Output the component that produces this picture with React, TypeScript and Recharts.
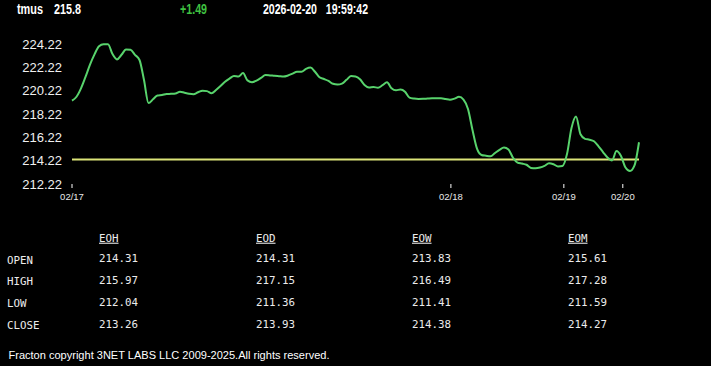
import React from "react";
import { LineChart, Line, XAxis, YAxis, ReferenceLine } from "recharts";

const symbol = "tmus";
const lastPrice = "215.8";
const change = "+1.49";
const dateText = "2026-02-20";
const timeText = "19:59:42";

const prices = [
  219.36, 219.7, 220.42, 221.4, 222.45, 223.33, 224.03, 224.2, 224.2, 223.36,
  222.9, 223.3, 223.74, 223.72, 223.29, 222.85, 221.13, 219.16, 219.48, 219.81,
  219.85, 219.93, 219.95, 219.98, 220.13, 220.04, 219.96, 219.92, 220.08, 220.22,
  220.18, 220.0, 220.28, 220.62, 220.99, 221.26, 221.48, 221.43, 221.73, 221.1,
  220.95, 221.08, 221.31, 221.56, 221.53, 221.49, 221.46, 221.43, 221.52, 221.68,
  221.85, 221.85, 222.09, 222.2, 221.84, 221.37, 221.22, 221.05, 220.81, 220.75,
  220.83, 221.15, 221.47, 221.43, 221.19, 220.71, 220.49, 220.53, 220.47, 220.69,
  220.94, 220.43, 220.25, 220.32, 220.13, 219.62, 219.54, 219.51, 219.52, 219.54,
  219.56, 219.57, 219.57, 219.51, 219.45, 219.54, 219.69, 219.45, 218.65, 216.85,
  215.25, 214.71, 214.64, 214.59, 214.88, 215.15, 215.34, 215.17, 214.47, 214.06,
  213.97, 213.87, 213.6, 213.57, 213.63, 213.77, 213.99, 213.91, 213.73, 213.77,
  214.79, 217.02, 218.01, 216.48, 216.09, 216.02, 215.88, 215.45, 214.96, 214.5,
  214.24, 215.05, 214.62, 213.63, 213.33, 213.81, 215.8,
];

const refPrice = 214.31;

const yTicks = [212.22, 214.22, 216.22, 218.22, 220.22, 222.22, 224.22];
const dayTickIndex = [0, 84.2, 109.3, 122.4];
const dayTickLabels = ["02/17", "02/18", "02/19", "02/20"];

const rowLabels = ["OPEN", "HIGH", "LOW", "CLOSE"];
const columnLabels = ["EOH", "EOD", "EOW", "EOM"];
const eohValues = [214.31, 215.97, 212.04, 213.26];
const eodValues = [214.31, 217.15, 211.36, 213.93];
const eowValues = [213.83, 216.49, 211.41, 214.38];
const eomValues = [215.61, 217.28, 211.59, 214.27];

const footerText = "Fracton copyright 3NET LABS LLC 2009-2025.All rights reserved.";

const data = prices.map((p, i) => ({ i, p }));
const columns = [eohValues, eodValues, eowValues, eomValues];

const colX = [99, 256, 412, 568];
const labelBaselines = [263.7, 285, 307, 328.7];
const valueBaselines = [261.7, 283.7, 306, 328.3];

const sans = "'Liberation Sans', Arial, sans-serif";
const mono = "'DejaVu Sans Mono', monospace";

export default function App() {
  const fmt = (v: number) => {
    const k = dayTickIndex.indexOf(v);
    return k >= 0 ? dayTickLabels[k] : "";
  };
  return (
    <div
      style={{
        position: "absolute",
        left: 0,
        top: 0,
        width: 711,
        height: 366,
        background: "#000",
        overflow: "hidden",
      }}
    >
      <div style={{ position: "absolute", left: 0, top: 0 }}>
        <LineChart
          width={711}
          height={366}
          data={data}
          margin={{ top: 44, right: 72, left: 0, bottom: 152 }}
        >
          <XAxis
            dataKey="i"
            type="number"
            domain={[0, 126]}
            ticks={dayTickIndex}
            tickFormatter={fmt}
            axisLine={false}
            tickSize={4}
            tickMargin={5}
            height={30}
            tickLine={{ stroke: "#ffffff", strokeWidth: 1 }}
            tick={{ fill: "#e8e8e8", fontSize: 9.5, fontFamily: sans }}
            interval={0}
          />
          <YAxis
            type="number"
            domain={[212.22, 224.22]}
            ticks={yTicks}
            tickFormatter={(v: number) => v.toFixed(2)}
            axisLine={false}
            tickLine={false}
            tickSize={0}
            tickMargin={10}
            width={72}
            tick={{ fill: "#f0f0f0", fontSize: 13, fontFamily: sans }}
            interval={0}
          />
          <ReferenceLine
            y={refPrice}
            stroke="#dbe478"
            strokeWidth={2}
            ifOverflow="extendDomain"
          />
          <Line
            type="monotone"
            dataKey="p"
            stroke="#58d36c"
            strokeWidth={2}
            dot={false}
            isAnimationActive={false}
          />
        </LineChart>
      </div>
      <svg
        width={711}
        height={366}
        style={{ position: "absolute", left: 0, top: 0, pointerEvents: "none" }}
      >
        <g fontFamily={sans} fontWeight="bold" fontSize={14}>
          <text x={17} y={14} fill="#ffffff" textLength={26} lengthAdjust="spacingAndGlyphs">
            {symbol}
          </text>
          <text x={54} y={14} fill="#ffffff" textLength={27} lengthAdjust="spacingAndGlyphs">
            {lastPrice}
          </text>
          <text x={180} y={14} fill="#3fc040" textLength={27} lengthAdjust="spacingAndGlyphs">
            {change}
          </text>
          <text
            x={263}
            y={14}
            fill="#ffffff"
            textLength={105}
            lengthAdjust="spacingAndGlyphs"
            style={{ whiteSpace: "pre" }}
          >
            {dateText + "   " + timeText}
          </text>
        </g>
        <g fontFamily={mono} fontSize={10.8} fill="#ececec">
          {columnLabels.map((c, k) => (
            <text key={c} x={colX[k]} y={241.7} style={{ textDecoration: "underline" }}>
              {c}
            </text>
          ))}
          {rowLabels.map((r, k) => (
            <text key={r} x={7} y={labelBaselines[k]}>
              {r}
            </text>
          ))}
          {columns.map((vals, c) =>
            vals.map((v, r) => (
              <text key={c + "-" + r} x={colX[c]} y={valueBaselines[r]}>
                {v.toFixed(2)}
              </text>
            ))
          )}
        </g>
        <text
          x={8.5}
          y={359}
          fill="#ffffff"
          fontFamily={sans}
          fontSize={11}
          textLength={321}
          lengthAdjust="spacingAndGlyphs"
        >
          {footerText}
        </text>
      </svg>
    </div>
  );
}
